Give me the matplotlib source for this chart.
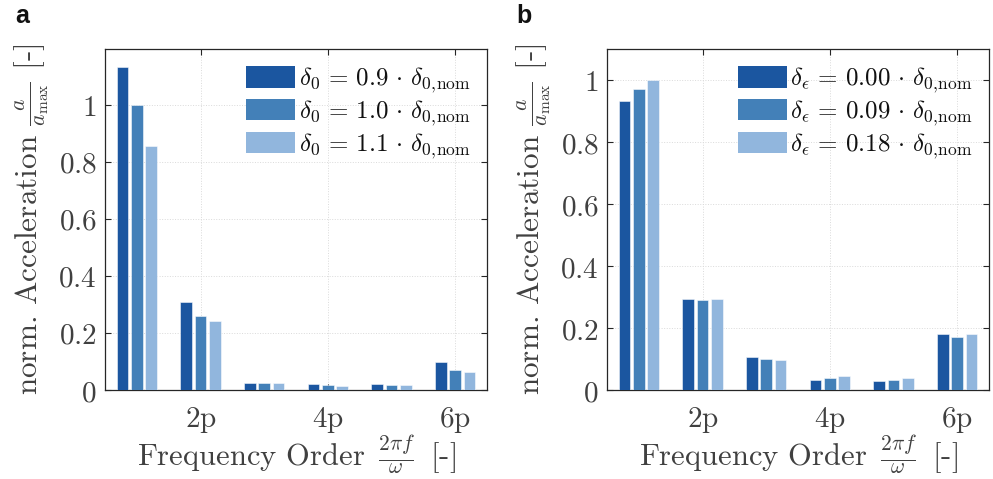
import matplotlib
matplotlib.use("Agg")
import matplotlib.pyplot as plt
import numpy as np
from matplotlib.ticker import FixedLocator, FuncFormatter, MultipleLocator

plt.rcParams['mathtext.fontset'] = 'cm'
plt.rcParams['font.family'] = ['DejaVu Serif']

orders = [1, 2, 3, 4, 5, 6]
xtick_pos = [2, 4, 6]
xtick_labels = ['2p', '4p', '6p']

labels_a = [r'$\delta_0 \,=\, 0.9 \,\cdot\, \delta_{0,\!\mathrm{nom}}$',
            r'$\delta_0 \,=\, 1.0 \,\cdot\, \delta_{0,\!\mathrm{nom}}$',
            r'$\delta_0 \,=\, 1.1 \,\cdot\, \delta_{0,\!\mathrm{nom}}$']
vals_a_09 = [1.134, 0.308, 0.024, 0.021, 0.021, 0.097]
vals_a_10 = [1.000, 0.259, 0.023, 0.018, 0.019, 0.069]
vals_a_11 = [0.857, 0.241, 0.025, 0.015, 0.016, 0.063]

labels_b = [r'$\delta_\epsilon \,=\, 0.00 \,\cdot\, \delta_{0,\!\mathrm{nom}}$',
            r'$\delta_\epsilon \,=\, 0.09 \,\cdot\, \delta_{0,\!\mathrm{nom}}$',
            r'$\delta_\epsilon \,=\, 0.18 \,\cdot\, \delta_{0,\!\mathrm{nom}}$']
vals_b_000 = [0.933, 0.294, 0.107, 0.031, 0.029, 0.182]
vals_b_009 = [0.970, 0.289, 0.101, 0.040, 0.031, 0.171]
vals_b_018 = [1.000, 0.292, 0.097, 0.045, 0.038, 0.180]

colors = ['#1B56A0', '#4380B8', '#91B6DD']
txt = '#404040'
axc = '#262626'

fig = plt.figure(figsize=(9.93, 4.79), dpi=100)
ax_a = fig.add_axes([105/993, 89/479, 382/993, 341/479])
ax_b = fig.add_axes([607/993, 89/479, 382/993, 341/479])

def ytick_fmt(v, pos):
    if abs(v) < 1e-9:
        s = '0'
    elif abs(v - round(v)) < 1e-9:
        s = '%d' % round(v)
    else:
        s = '%.1f' % v
    return r'$%s$' % s

def draw(ax, series, labels, ymax):
    offs = [-0.225, 0.0, 0.225]
    x = np.array(orders, dtype=float)
    for s, o, c, l in zip(series, offs, colors, labels):
        ax.bar(x + o, s, width=0.18, color=c, edgecolor=(1, 1, 1, 0.6),
               linewidth=0.6, label=l, zorder=3)
    ax.set_xlim(0.5, 6.5)
    ax.set_ylim(0, ymax)
    ax.xaxis.set_major_locator(FixedLocator(xtick_pos))
    ax.set_xticklabels([r'$\mathrm{%s}$' % t for t in xtick_labels])
    ax.yaxis.set_major_locator(MultipleLocator(0.2))
    ax.yaxis.set_major_formatter(FuncFormatter(ytick_fmt))
    ax.tick_params(axis='both', direction='in', length=4, width=0.8,
                   colors=axc, labelcolor=txt, labelsize=21,
                   top=True, right=True, pad=6)
    ax.tick_params(axis='x', pad=11)
    for sp in ax.spines.values():
        sp.set_color(axc)
        sp.set_linewidth(0.9)
    ax.grid(True, color='#dadada', linestyle=':', linewidth=0.7, zorder=0)
    ax.set_axisbelow(True)
    ax.set_xlabel(r'Frequency Order $\,\frac{2\pi f}{\omega}\,$ [-]',
                  fontsize=22, color=txt, labelpad=-2, family='cmr10')
    ax.set_ylabel(r'norm. Acceleration $\frac{a}{a_{\mathrm{max}}}$ [-]',
                  fontsize=22.5, color=txt, labelpad=5, family='cmr10')
    leg = ax.legend(loc='upper right', bbox_to_anchor=(0.958, 0.952), frameon=False,
                    fontsize=18, handlelength=1.96, handleheight=0.95,
                    handletextpad=0.15, labelspacing=0.12, borderaxespad=0.0,
                    borderpad=0.0)
    for h in leg.legend_handles:
        h.set_edgecolor('none')
    for t in leg.get_texts():
        t.set_color('#111111')

draw(ax_a, [vals_a_09, vals_a_10, vals_a_11], labels_a, 1.196)
draw(ax_b, [vals_b_000, vals_b_009, vals_b_018], labels_b, 1.1)

fig.text(15/993, 1 - 16/479, 'a', fontsize=18, fontweight='bold',
         family='Liberation Sans', va='center', ha='left', color='#111111')
fig.text(516/993, 1 - 16/479, 'b', fontsize=18, fontweight='bold',
         family='Liberation Sans', va='center', ha='left', color='#111111')

fig.savefig('out.png', dpi=100)
